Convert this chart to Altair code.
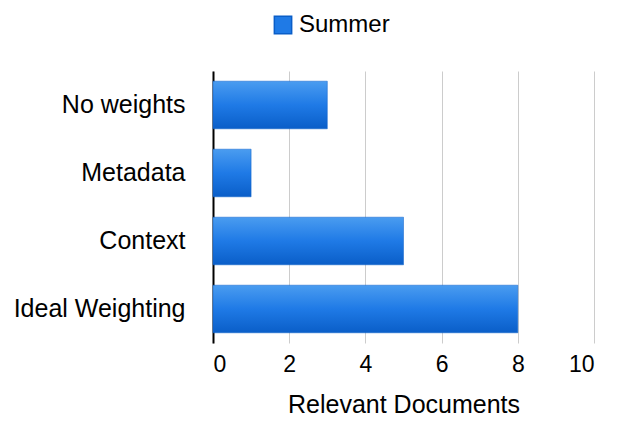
import altair as alt
import pandas as pd

categories = ["No weights", "Metadata", "Context", "Ideal Weighting"]
values = [3, 1, 5, 8]
series = ["Summer"] * 4

df = pd.DataFrame({"method": categories, "docs": values, "series": series})

grad = alt.Gradient(
    gradient="linear", x1=0, y1=0, x2=0, y2=1,
    stops=[alt.GradientStop(color="#4a9cf0", offset=0),
           alt.GradientStop(color="#1f7ae6", offset=0.5),
           alt.GradientStop(color="#0a5ec8", offset=1)],
)

chart = alt.Chart(df).mark_bar(fill=grad, stroke="#0a5ec8", strokeWidth=0.5).encode(
    x=alt.X("docs:Q", scale=alt.Scale(domain=[0, 10]),
            axis=alt.Axis(values=[0, 2, 4, 6, 8, 10], title="Relevant Documents",
                          domain=False, ticks=False, labelFontSize=23, titleFontSize=25,
                          titleFontWeight="normal", labelPadding=10, titlePadding=16,
                          gridColor="#cccccc", labelColor="black", titleColor="black")),
    y=alt.Y("method:N", sort=categories,
            scale=alt.Scale(paddingInner=0.3, paddingOuter=0.15),
            axis=alt.Axis(title=None, ticks=False, domainColor="black", domainWidth=2,
                          labelFontSize=25, labelPadding=28, labelColor="black", grid=False)),
    color=alt.Color("series:N", scale=alt.Scale(range=["#1f7ae6"]),
                    legend=alt.Legend(title=None, orient="none", legendX=58, legendY=-58,
                                      labelFontSize=24, symbolType="square", symbolSize=300,
                                      labelColor="black")),
).properties(width=381, height=272).configure(font="Liberation Sans").configure_view(stroke=None)

chart.save("out.html", embed_options={"renderer": "svg", "actions": False})
